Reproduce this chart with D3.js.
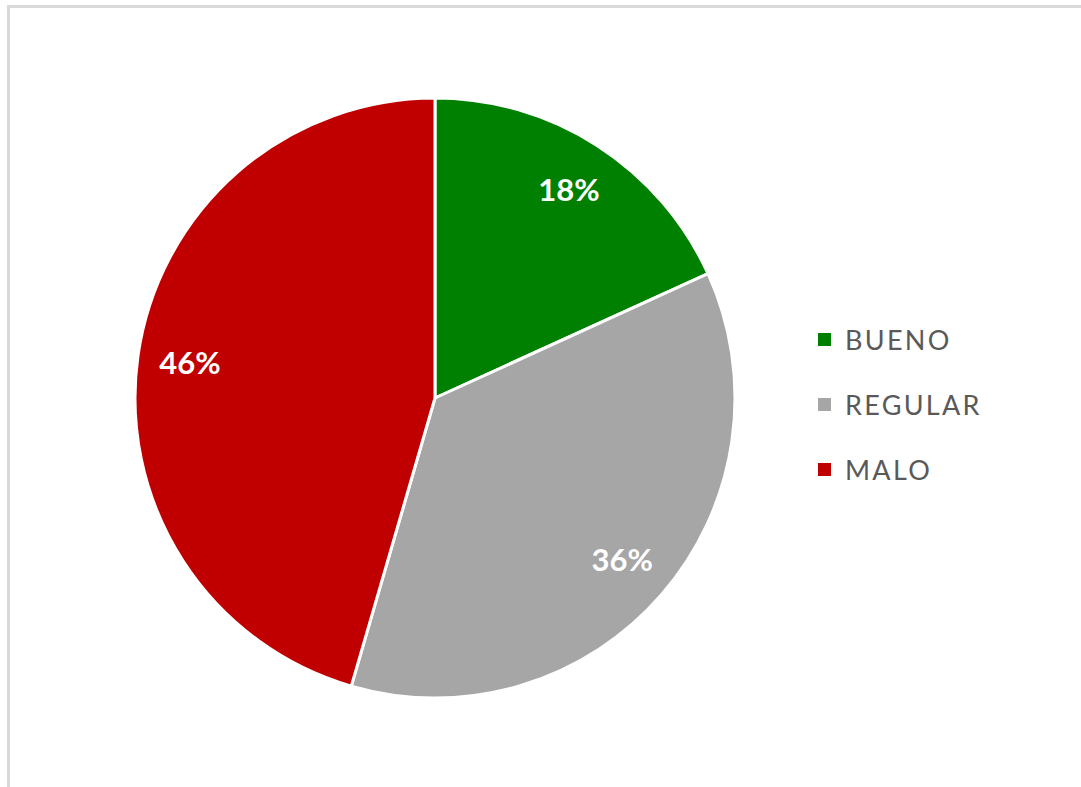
<!DOCTYPE html>
<html><head><meta charset="utf-8">
<script src="https://cdn.jsdelivr.net/npm/d3@7"></script>
<style>body{margin:0;background:#fff;}svg{display:block;}</style>
</head><body>
<script>
const categories = ["BUENO", "REGULAR", "MALO"];
const values = [18.2, 36.3, 45.5];
const labels = ["18%", "36%", "46%"];
const colors = ["#008000", "#a6a6a6", "#c00000"];

const W = 1081, H = 787;
const svg = d3.select("body").append("svg").attr("width", W).attr("height", H);
svg.append("rect").attr("width", W).attr("height", H).attr("fill", "#fff");
// chart frame
svg.append("path").attr("d", `M8.5,${H+5} L8.5,6.5 L${W+5},6.5`)
  .attr("fill", "none").attr("stroke", "#d9d9d9").attr("stroke-width", 3);

const cx = 435, cy = 398, R = 300;
const data = categories.map((c, i) => ({c, v: values[i], l: labels[i], col: colors[i]}));
const pie = d3.pie().value(d => d.v).sort(null);
const arcs = pie(data);
const arc = d3.arc().innerRadius(0).outerRadius(R);
const labelArc = d3.arc().innerRadius(R * 0.825).outerRadius(R * 0.825);
const g = svg.append("g").attr("transform", `translate(${cx},${cy})`);
g.selectAll("path").data(arcs).join("path")
  .attr("d", arc).attr("fill", d => d.data.col)
  .attr("stroke", "#fff").attr("stroke-width", 3).attr("stroke-linejoin", "round");
g.selectAll("text").data(arcs).join("text")
  .attr("transform", d => `translate(${labelArc.centroid(d)})`)
  .attr("text-anchor", "middle").attr("dy", "0.36em")
  .attr("fill", "#fff").attr("font-family", "Lato, 'Open Sans', sans-serif")
  .attr("font-weight", "bold").attr("font-size", 31)
  .text(d => d.data.l);

const leg = svg.append("g");
const rowY = d3.scalePoint().domain(categories).range([340, 470]);
categories.forEach((c, i) => {
  const y = rowY(c);
  leg.append("rect").attr("x", 818).attr("y", y - 7).attr("width", 13).attr("height", 13).attr("fill", colors[i]);
  leg.append("text").attr("x", 845).attr("y", y).attr("dy", "0.36em")
    .attr("fill", "#595959").attr("font-family", "Lato, 'Open Sans', sans-serif")
    .attr("font-size", 27).attr("letter-spacing", 2.3).text(c);
});
</script>
</body></html>
